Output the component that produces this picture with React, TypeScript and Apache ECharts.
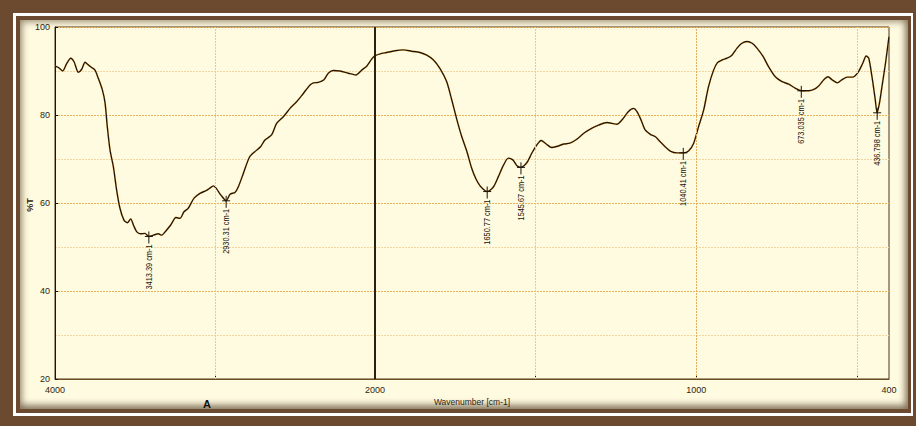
import React, { useEffect, useRef } from "react";
import * as echarts from "echarts";

// ---- Data ----
// Region 4000 -> 2000 cm-1 (compressed scale)
const leftWavenumbers = [
  4000, 3979, 3952, 3927, 3902, 3881, 3854, 3833, 3812, 3792,
  3771, 3750, 3729, 3704, 3687, 3673, 3656, 3635, 3615, 3594,
  3569, 3548, 3527, 3510, 3490, 3465, 3438, 3413, 3385, 3354,
  3333, 3306, 3277, 3244, 3219, 3194, 3167, 3131, 3094, 3056,
  3035, 3010, 2990, 2963, 2930, 2906, 2875, 2854, 2823, 2785,
  2750, 2715, 2688, 2646, 2615, 2573, 2531, 2490, 2448, 2406,
  2385, 2354, 2319, 2292, 2260, 2219, 2167, 2119, 2083, 2052,
  2021, 2000,
];
const leftTransmittance = [
  91.1, 90.8, 90.0, 91.7, 92.9, 92.1, 89.7, 90.4, 92.0, 91.4,
  90.8, 90.2, 88.3, 85.7, 82.7, 77.3, 72.0, 68.2, 63.0, 58.8,
  56.1, 55.5, 56.4, 55.0, 53.5, 53.0, 53.1, 52.4, 52.7, 53.0,
  52.7, 53.7, 55.0, 56.7, 56.5, 58.0, 58.8, 61.1, 62.2, 62.8,
  63.3, 63.9, 63.2, 61.8, 60.5, 62.0, 62.4, 63.7, 66.7, 70.4,
  71.7, 72.8, 74.3, 75.5, 78.1, 79.6, 81.5, 83.0, 84.9, 86.8,
  87.3, 87.4, 88.0, 89.5, 90.1, 90.0, 89.5, 89.1, 90.2, 91.1,
  92.7, 93.5,
];

// Region 2000 -> 400 cm-1 (expanded scale)
const rightWavenumbers = [
  2000, 1984, 1964, 1938, 1912, 1886, 1860, 1839, 1818, 1798,
  1777, 1761, 1745, 1730, 1714, 1699, 1686, 1673, 1657, 1650,
  1631, 1616, 1600, 1585, 1571, 1557, 1546, 1527, 1512, 1496,
  1483, 1467, 1450, 1432, 1413, 1393, 1372, 1351, 1330, 1304,
  1278, 1263, 1247, 1231, 1211, 1195, 1185, 1172, 1159, 1143,
  1128, 1112, 1097, 1081, 1060, 1040, 1024, 1008, 993, 977,
  962, 946, 934, 920, 904, 889, 873, 858, 842, 826,
  811, 792, 775, 754, 733, 712, 692, 673, 650, 634,
  619, 603, 590, 577, 561, 545, 530, 514, 498, 482,
  471, 463, 453, 443, 437, 429, 422, 411, 400,
];
const rightTransmittance = [
  93.5, 93.9, 94.2, 94.6, 94.8, 94.5, 94.2, 93.6, 92.5, 90.6,
  87.6, 83.4, 78.9, 75.1, 71.7, 67.9, 65.5, 63.9, 62.8, 62.6,
  63.7, 66.0, 68.6, 70.2, 69.8, 68.4, 68.1, 69.2, 71.3, 73.2,
  74.2, 73.4, 72.6, 72.9, 73.4, 73.6, 74.5, 75.8, 76.8, 77.7,
  78.3, 78.1, 77.9, 78.9, 80.8, 81.5, 80.8, 78.9, 76.6, 75.6,
  75.1, 73.9, 72.8, 71.8, 71.4, 71.4, 71.8, 73.6, 77.3, 81.1,
  86.4, 90.2, 91.9, 92.5, 92.9, 93.6, 95.2, 96.3, 96.7, 96.3,
  95.2, 93.3, 91.0, 88.7, 87.6, 87.0, 86.1, 85.5, 85.5, 85.8,
  86.6, 88.0, 88.7, 88.0, 87.3, 88.1, 88.6, 88.6, 89.5, 91.7,
  93.4, 92.9, 88.7, 83.6, 80.5, 83.0, 86.4, 91.7, 97.8,
];

// Annotated peaks
const peakWavenumbers = [3413.39, 2930.31, 1650.77, 1545.67, 1040.41, 673.035, 436.798];
const peakTransmittance = [52.4, 60.5, 62.6, 68.1, 71.4, 85.5, 80.5];
const peakLabels = [
  "3413.39 cm-1",
  "2930.31 cm-1",
  "1650.77 cm-1",
  "1545.67 cm-1",
  "1040.41 cm-1",
  "673.035 cm-1",
  "436.798 cm-1",
];

// Axis ticks / labels
const yMin = 20;
const yMax = 100;
const yStep = 20;
const leftXRange = [2000, 4000];
const rightXRange = [400, 2000];
const leftXLabels = [4000, 2000];
const rightXLabels = [1000, 400];
const leftXTicks = [3000];
const rightXTicks = [1500, 1000, 500];
const leftXGrid = [3000];
const rightXGrid = [1500, 1000, 500];
const splitWavenumber = 2000;

const xAxisTitle = "Wavenumber [cm-1]";
const yAxisTitle = "%T";
const panelTag = "A";

const BROWN = "#6B4A2F";
const CREAM = "#FFFBE1";
const INK = "#1c140b";
const LABEL_INK = "#2c1f10";

export default function App() {
  const ref = useRef<HTMLDivElement>(null);

  useEffect(() => {
    document.body.style.margin = "0";
    if (!ref.current) return;
    const chart = echarts.init(ref.current, undefined, { renderer: "svg" });

    const leftData = leftWavenumbers.map((w, i) => [w, leftTransmittance[i]]);
    const rightData = rightWavenumbers.map((w, i) => [w, rightTransmittance[i]]);
    const peaks = peakWavenumbers.map((w, i) => ({ w, t: peakTransmittance[i], label: peakLabels[i] }));
    const leftPeaks = peaks.filter((p) => p.w >= splitWavenumber);
    const rightPeaks = peaks.filter((p) => p.w < splitWavenumber);

    const gridLineStyle = { color: "#E9B35C", type: [2, 1] as any, width: 1 };
    const minorGridLineStyle = { color: "#F2D6A2", type: [2, 1] as any, width: 1 };

    const yAxisCommon = {
      type: "value" as const,
      min: yMin,
      max: yMax,
      interval: yStep,
      splitLine: { show: true, lineStyle: gridLineStyle },
      minorTick: { show: false, splitNumber: 2 },
      minorSplitLine: { show: true, lineStyle: minorGridLineStyle },
    };

    const xAxisCommon = {
      type: "value" as const,
      inverse: true,
      splitLine: { show: false },
      axisLine: { show: true, onZero: false, lineStyle: { color: "#6e5020", width: 1 } },
      axisTick: {
        show: true,
        inside: true,
        length: 3,
        lineStyle: { color: "#1c140b", width: 1 },
      },
      axisLabel: {
        color: LABEL_INK,
        fontSize: 9,
        fontFamily: "'Liberation Sans', Arial, sans-serif",
        margin: 6,
        formatter: (v: number) => String(v),
      },
    };

    const makePeakSeries = (axisIndex: number, list: typeof peaks) => ({
      type: "custom" as const,
      xAxisIndex: axisIndex,
      yAxisIndex: axisIndex,
      data: list.map((p) => [p.w, p.t]),
      silent: true,
      z: 4,
      clip: false,
      renderItem: (params: any, api: any) => {
        const pt = api.coord([api.value(0), api.value(1)]);
        const label = list[params.dataIndex].label;
        const stroke = { stroke: INK, lineWidth: 1 };
        return {
          type: "group",
          children: [
            {
              type: "line",
              shape: { x1: pt[0] - 4, y1: pt[1], x2: pt[0] + 4, y2: pt[1] },
              style: stroke,
            },
            {
              type: "line",
              shape: { x1: pt[0], y1: pt[1] - 5, x2: pt[0], y2: pt[1] + 7 },
              style: stroke,
            },
            {
              type: "text",
              x: pt[0],
              y: pt[1] + 8,
              rotation: Math.PI / 2,
              scaleX: 0.82,
              style: {
                text: label,
                fill: "#1a1209",
                font: "9px 'Liberation Sans', Arial, sans-serif",
                textAlign: "right",
                textVerticalAlign: "middle",
              },
            },
          ],
        };
      },
    });

    const lineStyle = {
      color: INK,
      width: 1.4,
      shadowColor: "rgba(214,140,40,0.85)",
      shadowBlur: 1.5,
    };

    const option: any = {
      animation: false,
      backgroundColor: "transparent",
      grid: [
        {
          left: 55,
          top: 27,
          width: 320,
          height: 352,
          show: true,
          borderColor: "#4a341a",
          borderWidth: 1,
          backgroundColor: "transparent",
        },
        {
          left: 375,
          top: 27,
          width: 514,
          height: 352,
          show: true,
          borderColor: "#4a341a",
          borderWidth: 1,
          backgroundColor: "transparent",
        },
      ],
      xAxis: [
        {
          ...xAxisCommon,
          gridIndex: 0,
          min: leftXRange[0],
          max: leftXRange[1],
          interval: 1000,
          axisTick: { ...xAxisCommon.axisTick, customValues: leftXTicks },
          axisLabel: { ...xAxisCommon.axisLabel, customValues: leftXLabels },
        },
        {
          ...xAxisCommon,
          gridIndex: 1,
          min: rightXRange[0],
          max: rightXRange[1],
          interval: 100,
          axisTick: { ...xAxisCommon.axisTick, customValues: rightXTicks },
          axisLabel: { ...xAxisCommon.axisLabel, customValues: rightXLabels },
        },
      ],
      yAxis: [
        {
          ...yAxisCommon,
          gridIndex: 0,
          axisLine: { show: true, lineStyle: { color: "#1c140b", width: 1 } },
          axisTick: { show: true, inside: true, length: 3, lineStyle: { color: "#1c140b" } },
          axisLabel: {
            color: LABEL_INK,
            fontSize: 9,
            fontFamily: "'Liberation Sans', Arial, sans-serif",
            margin: 5,
          },
        },
        {
          ...yAxisCommon,
          gridIndex: 1,
          axisLine: { show: false },
          axisTick: { show: false },
          axisLabel: { show: false },
        },
      ],
      series: [
        {
          type: "line",
          xAxisIndex: 0,
          yAxisIndex: 0,
          data: leftData,
          showSymbol: false,
          symbol: "none",
          smooth: 0.25,
          lineStyle,
          silent: true,
          z: 3,
          markLine: {
            silent: true,
            symbol: ["none", "none"],
            label: { show: false },
            lineStyle: { ...gridLineStyle, color: "#F0C987" },
            data: [
              ...leftXGrid.map((v) => ({ xAxis: v })),
              { xAxis: splitWavenumber, lineStyle: { color: "#22180c", type: "solid", width: 1.8 } },
            ],
          },
        },
        {
          type: "line",
          xAxisIndex: 1,
          yAxisIndex: 1,
          data: rightData,
          showSymbol: false,
          symbol: "none",
          smooth: 0.25,
          lineStyle,
          silent: true,
          z: 3,
          markLine: {
            silent: true,
            symbol: ["none", "none"],
            label: { show: false },
            lineStyle: { ...gridLineStyle, color: "#F0C987" },
            data: rightXGrid.map((v) =>
              v === 1000 ? { xAxis: v, lineStyle: { color: "#E3B063" } } : { xAxis: v }
            ),
          },
        },
        makePeakSeries(0, leftPeaks),
        makePeakSeries(1, rightPeaks),
      ],
      graphic: [
        {
          type: "text",
          x: 30,
          y: 205,
          rotation: Math.PI / 2,
          style: {
            text: yAxisTitle,
            fill: "#3a2810",
            font: "bold 9px 'Liberation Sans', Arial, sans-serif",
            textAlign: "center",
            textVerticalAlign: "middle",
          },
        },
        {
          type: "text",
          x: 472,
          y: 402,
          style: {
            text: xAxisTitle,
            fill: LABEL_INK,
            font: "8.5px 'Liberation Sans', Arial, sans-serif",
            textAlign: "center",
            textVerticalAlign: "middle",
          },
        },
        {
          type: "text",
          x: 207,
          y: 404,
          style: {
            text: panelTag,
            fill: "#111",
            font: "bold 11px 'Liberation Sans', Arial, sans-serif",
            textAlign: "center",
            textVerticalAlign: "middle",
          },
        },
      ],
    };

    chart.setOption(option);
    return () => {
      chart.dispose();
    };
  }, []);

  return (
    <div style={{ position: "relative", width: 916, height: 426, background: BROWN, overflow: "hidden" }}>
      <div
        style={{
          position: "absolute",
          left: 13,
          top: 13,
          width: 900,
          height: 403,
          background: "#ffffff",
        }}
      />
      <div
        style={{
          position: "absolute",
          left: 16,
          top: 16,
          width: 895,
          height: 397,
          background: BROWN,
        }}
      />
      <div
        style={{
          position: "absolute",
          left: 20,
          top: 20,
          width: 888,
          height: 389,
          background: CREAM,
          boxShadow:
            "inset 0 0 7px 2px rgba(90,70,45,0.55), inset -2px -4px 7px rgba(80,60,40,0.45)",
        }}
      />
      <div ref={ref} style={{ position: "absolute", left: 0, top: 0, width: 916, height: 426 }} />
    </div>
  );
}
